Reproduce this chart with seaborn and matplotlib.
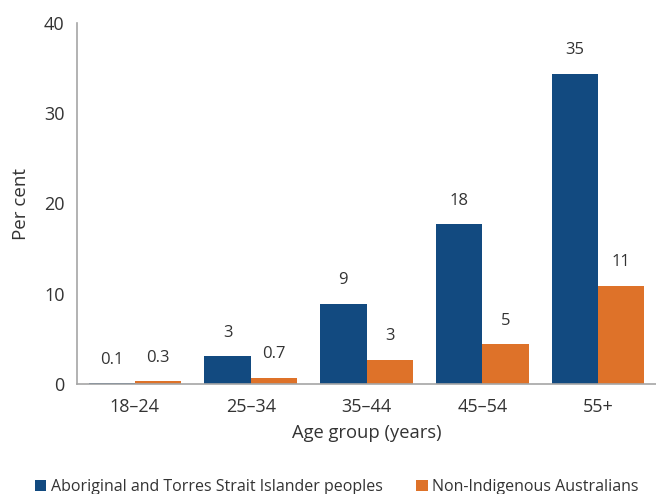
import matplotlib
matplotlib.use("Agg")
import matplotlib.pyplot as plt
import seaborn as sns
import pandas as pd
import numpy as np
from matplotlib.patches import Patch

categories = ["18–24", "25–34", "35–44", "45–54", "55+"]
series_names = ["Aboriginal and Torres Strait Islander peoples", "Non-Indigenous Australians"]
indigenous = [0.1, 3.1, 8.9, 17.7, 34.4]
non_indigenous = [0.3, 0.7, 2.7, 4.4, 10.9]
indigenous_labels = ["0.1", "3", "9", "18", "35"]
non_indigenous_labels = ["0.3", "0.7", "3", "5", "11"]
y_ticks = [0, 10, 20, 30, 40]

colors = ["#124A80", "#DE7229"]

df = pd.DataFrame({
    "Age group": categories * 2,
    "Value": indigenous + non_indigenous,
    "Group": [series_names[0]] * len(categories) + [series_names[1]] * len(categories),
})

sns.set_theme(style="white")
plt.rcParams["font.family"] = ["Open Sans", "DejaVu Sans"]
text_color = "#333333"

fig = plt.figure(figsize=(6.56, 4.94), dpi=100)
ax = fig.add_axes([77 / 656, 1 - 384 / 494, 1 - 77 / 656, (384 - 23) / 494])

sns.barplot(data=df, x="Age group", y="Value", hue="Group", palette=colors,
            width=0.8, ax=ax, legend=False, saturation=1, edgecolor="none")

for cont, labs in zip(ax.containers, [indigenous_labels, non_indigenous_labels]):
    ax.bar_label(cont, labels=labs, padding=11, fontsize=12, color=text_color)

ax.set_ylim(0, 40)
ax.set_xlim(-0.5, len(categories) - 0.5)
ax.set_yticks(y_ticks)
ax.set_xticks(range(len(categories)))
ax.set_xticklabels(categories)
ax.set_xticks(np.arange(-0.5, len(categories), 1.0), minor=True)
ax.tick_params(axis="x", which="major", length=0, pad=10, labelsize=13, labelcolor=text_color)
ax.tick_params(axis="x", which="minor", length=5, width=1, color="#A6A6A6", direction="out")
ax.tick_params(axis="y", length=5, width=1, color="#A6A6A6", labelsize=13, labelcolor=text_color, pad=4)

for s in ["top", "right"]:
    ax.spines[s].set_visible(False)
for s in ["left", "bottom"]:
    ax.spines[s].set_color("#A6A6A6")
    ax.spines[s].set_linewidth(1.2)

ax.set_ylabel("Per cent", fontsize=13.5, color=text_color, labelpad=10)
ax.set_xlabel("Age group (years)", fontsize=13.2, color=text_color, labelpad=6)

handles = [Patch(facecolor=c, edgecolor="none") for c in colors]
fig.legend(handles, series_names, loc="upper left", bbox_to_anchor=(35 / 656, 1 - 479 / 494),
           ncol=2, frameon=False, fontsize=11.5, handlelength=0.7, handleheight=0.7,
           handletextpad=0.3, columnspacing=2.1, labelcolor=text_color,
           borderpad=0, borderaxespad=0)

fig.savefig("out.png", dpi=100)
